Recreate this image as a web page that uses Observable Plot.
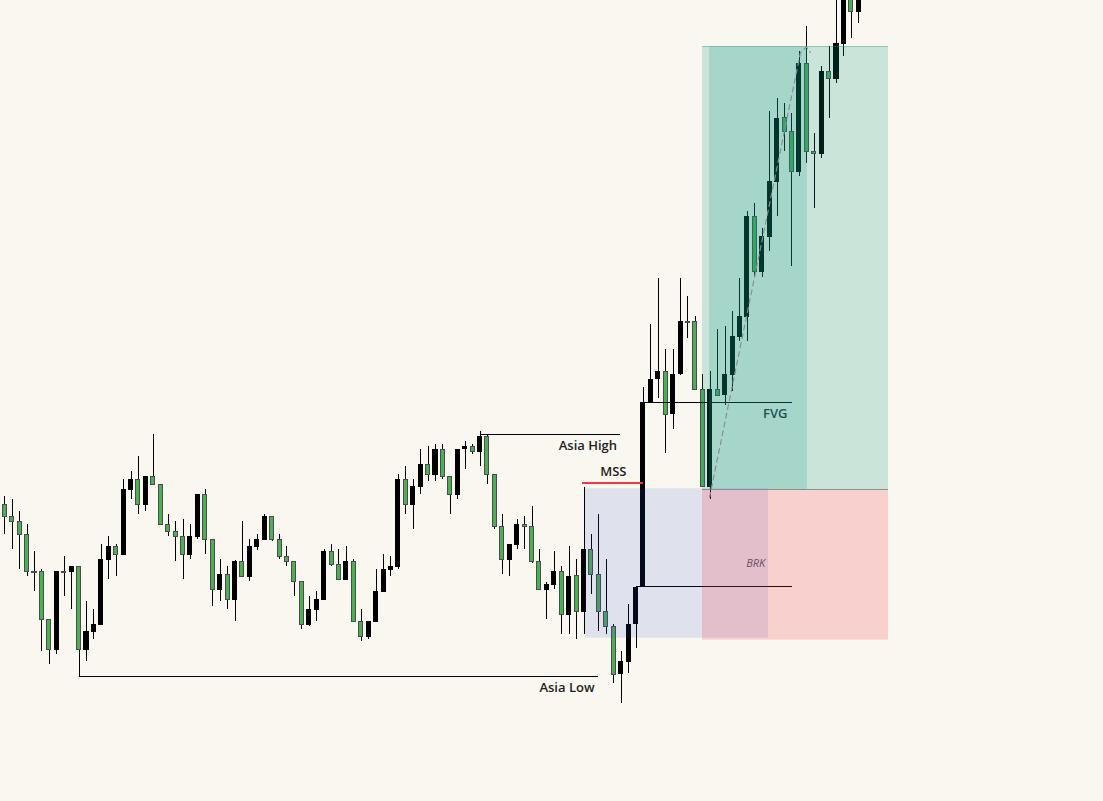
<!DOCTYPE html>
<html>
<head>
<meta charset="utf-8">
<script src="https://cdn.jsdelivr.net/npm/d3@7"></script>
<script src="https://cdn.jsdelivr.net/npm/@observablehq/plot@0.6"></script>
<style>
  html, body { margin: 0; padding: 0; background: #faf7f0; overflow: hidden; }
  #chart svg { display: block; }
</style>
</head>
<body>
<div id="chart"></div>
<script>
// ---- Candle data (price units) ----
const open = [29.57,28.37,27.87,26.57,22.90,22.90,18.07,15.03,22.90,22.83,23.40,15.03,16.83,17.53,24.03,25.40,24.53,31.03,32.10,29.53,
32.40,31.60,27.57,26.87,26.37,24.53,26.33,30.60,26.10,21.03,22.60,20.03,23.90,22.33,25.33,26.03,28.40,26.10,24.40,23.90,
21.87,17.53,19.03,20.03,24.90,23.60,22.03,23.90,17.90,16.33,17.83,20.83,23.03,23.33,32.10,29.53,31.33,33.60,32.53,35.10,
32.40,30.53,35.07,35.40,34.83,36.40,32.57,27.33,24.03,25.53,27.57,27.37,23.90,21.03,21.53,22.90,18.53,22.43,18.83,25.10,
22.57,18.87,17.40,12.57,13.83,17.57,21.40,39.83,42.07,42.90,38.57,42.57,47.85,47.83,41.07,31.33,41.10,40.50,42.50,46.33,
48.33,58.40,52.83,56.33,61.83,68.23,66.90,62.83,73.70,64.90,64.63,72.90,72.13,75.63,80.60,78.83];
const high = [30.40,30.10,28.90,27.60,24.90,23.10,18.07,22.90,24.40,23.40,23.40,19.90,19.10,25.60,26.40,25.60,32.10,32.90,34.40,32.40,
36.60,31.60,28.60,27.90,28.10,27.60,30.60,31.10,26.10,24.13,23.43,24.03,27.93,26.10,26.60,28.60,28.40,26.60,25.40,23.90,
21.87,20.40,20.90,25.10,25.60,25.10,25.40,24.10,19.10,17.90,23.10,24.60,24.40,32.60,33.40,32.10,35.10,35.40,35.60,35.60,
32.40,35.10,35.90,35.60,36.90,36.60,32.57,28.57,25.60,28.10,28.40,29.40,25.10,21.83,24.90,23.43,25.40,24.13,31.33,26.60,
28.60,24.10,17.60,14.90,19.60,21.33,41.33,47.57,52.17,45.07,45.07,52.17,50.40,48.40,42.57,42.90,47.10,47.40,48.90,52.20,
58.90,59.70,57.20,68.90,70.20,69.70,68.70,74.90,77.40,66.70,73.40,75.40,81.50,83.00,82.00,82.50];
const low = [26.63,25.13,23.13,22.43,20.93,14.93,13.63,14.63,20.43,19.13,12.37,13.93,16.13,17.53,22.13,22.43,24.53,30.10,28.63,28.93,
31.57,27.47,26.43,23.93,22.13,24.13,26.13,24.63,19.43,19.93,19.13,17.93,22.33,21.93,24.97,26.03,25.93,24.13,23.43,20.43,
17.13,17.43,17.93,20.03,23.43,22.03,22.03,17.83,15.93,16.13,17.83,20.83,22.43,23.13,28.63,27.13,30.63,31.93,31.93,32.13,
28.63,30.13,33.13,34.63,33.43,31.63,27.13,22.63,22.43,25.13,25.13,23.73,21.00,18.13,21.13,16.63,16.63,16.13,16.63,20.63,
16.93,16.60,11.67,9.67,12.67,15.17,21.33,39.83,40.17,34.67,37.13,42.53,46.17,41.07,31.33,30.07,40.43,39.50,40.93,45.93,
45.93,52.33,52.27,54.93,58.43,64.93,53.43,62.43,63.73,59.23,64.23,68.23,71.73,74.43,76.23,77.73];
const close = [28.33,27.83,26.57,22.83,22.80,18.03,15.03,22.90,22.80,23.40,15.03,16.90,17.60,24.10,25.40,24.53,31.10,32.10,29.53,32.40,
31.57,27.57,26.87,26.37,24.57,26.37,30.60,26.07,21.03,22.60,20.03,23.90,22.37,25.40,26.10,28.40,26.03,24.33,23.83,21.83,
17.57,19.10,20.10,24.90,23.53,22.03,23.90,17.83,16.33,17.90,20.90,23.10,23.40,32.10,29.53,31.40,33.60,32.57,35.10,32.33,
30.53,35.10,35.40,34.83,36.40,32.57,27.33,24.03,25.60,27.60,27.33,23.83,21.03,21.63,22.90,18.53,22.43,18.83,25.10,22.53,
18.83,17.33,12.57,13.90,17.57,21.33,39.83,42.07,42.90,38.57,42.57,47.90,47.80,41.07,31.33,41.07,40.50,42.60,46.40,48.40,
58.40,52.83,56.40,61.90,68.23,66.83,62.83,73.70,64.83,64.67,72.90,72.13,75.70,80.60,78.83,81.20];

// ---- Annotation levels (bar index, price) ----
const levelNames  = ["Asia High", "Asia Low", "MSS", "FVG", "BRK"];
const levelPrice  = [36.57, 12.37, 31.73, 39.83, 21.37];
const levelStart  = [64, 10, 77.8, 86, 85];
const levelEnd    = [82.9, 80, 86, 106.03, 106.03];

// label anchors
const labelText   = ["Asia High", "Asia Low", "MSS", "FVG", "BRK"];
const labelIndex  = [82.45, 79.41, 81.95, 105.4, 102.4];
const labelPrice  = [35.05, 10.83, 32.5, 38.3, 23.4];

// zones: [x1 index, x2 index, price low, price high]
const zoneNames = ["session", "stop", "target", "targetCore"];
const zoneX1 = [78.2, 93.95, 93.95, 94.9];
const zoneX2 = [102.84, 119.0, 119.0, 108.1];
const zoneLo = [16.23, 16.03, 31.1, 31.1];
const zoneHi = [31.17, 31.1, 75.4, 75.4];

// dashed projection path
const pathIndex = [94.9, 107.15, 107.95, 108.49];
const pathPrice = [30.3, 74.8, 75.35, 74.8];

// ---- build tables ----
const candles = open.map((o, i) => ({i, o, h: high[i], l: low[i], c: close[i], up: close[i] > o}));
const levels = levelNames.map((n, k) => ({n, y: levelPrice[k], x1: levelStart[k], x2: levelEnd[k]}));
const zones = zoneNames.map((n, k) => ({n, x1: zoneX1[k], x2: zoneX2[k], y1: zoneLo[k], y2: zoneHi[k]}));
const arrow = pathIndex.map((x, k) => ({x, y: pathPrice[k]}));
const labels = labelText.map((t, k) => ({t, x: labelIndex[k], y: labelPrice[k]}));

const W = 1103, H = 801;
const firstX = 4.3, step = 7.426;
const font = "'Open Sans', 'Noto Sans', sans-serif";

const lvl = n => levels.filter(d => d.n === n);
const zn = n => zones.filter(d => d.n === n);
const lab = n => labels.filter(d => d.t === n);

const chart = Plot.plot({
  width: W, height: H,
  margin: 0,
  style: {background: "#faf7f0", overflow: "hidden"},
  x: {domain: [-firstX / step, (W - firstX) / step], axis: null},
  y: {domain: [80 - H / 10, 80], axis: null},
  marks: [
    // wicks
    Plot.ruleX(candles, {x: "i", y1: "l", y2: "h", stroke: "#000", strokeWidth: 1, shapeRendering: "crispEdges"}),
    // bullish bodies (black)
    Plot.rect(candles.filter(d => d.up), {x1: d => d.i - 0.34, x2: d => d.i + 0.34, y1: "o", y2: "c", fill: "#000", shapeRendering: "crispEdges"}),
    // bearish bodies (green)
    Plot.rect(candles.filter(d => !d.up), {x1: d => d.i - 0.27, x2: d => d.i + 0.27, y1: "o", y2: "c", fill: "#4caf50", stroke: "#4a4b55", strokeWidth: 1, shapeRendering: "crispEdges"}),
    // levels
    Plot.ruleY(lvl("Asia High"), {y: "y", x1: "x1", x2: "x2", stroke: "#000", strokeWidth: 1, shapeRendering: "crispEdges"}),
    Plot.ruleY(lvl("Asia Low"), {y: "y", x1: "x1", x2: "x2", stroke: "#000", strokeWidth: 1, shapeRendering: "crispEdges"}),
    Plot.ruleY(lvl("FVG"), {y: "y", x1: "x1", x2: "x2", stroke: "#000", strokeWidth: 1, shapeRendering: "crispEdges"}),
    Plot.ruleY(lvl("BRK"), {y: "y", x1: "x1", x2: "x2", stroke: "#000", strokeWidth: 1, shapeRendering: "crispEdges"}),
    Plot.ruleY(lvl("MSS"), {y: "y", x1: "x1", x2: "x2", stroke: "#f23645", strokeWidth: 2, shapeRendering: "crispEdges"}),
    // labels
    Plot.text(lab("Asia High"), {x: "x", y: "y", text: "t", textAnchor: "end", lineAnchor: "bottom", fontSize: 13, fontWeight: 600, fontFamily: font, fill: "#1e1f24"}),
    Plot.text(lab("Asia Low"), {x: "x", y: "y", text: "t", textAnchor: "end", lineAnchor: "bottom", fontSize: 13, fontWeight: 600, fontFamily: font, fill: "#1e1f24"}),
    Plot.text(lab("MSS"), {x: "x", y: "y", text: "t", textAnchor: "middle", lineAnchor: "bottom", fontSize: 13, fontWeight: 600, fontFamily: font, fill: "#1e1f24"}),
    Plot.text(lab("FVG"), {x: "x", y: "y", text: "t", textAnchor: "end", lineAnchor: "bottom", fontSize: 13, fontWeight: 600, fontFamily: font, fill: "#2a2e39"}),
    Plot.text(lab("BRK"), {x: "x", y: "y", text: "t", textAnchor: "end", lineAnchor: "bottom", fontSize: 11, fontStyle: "italic", fontFamily: font, fill: "#55525e"}),
    // zones (translucent, on top)
    Plot.rect(zn("session"), {x1: "x1", x2: "x2", y1: "y1", y2: "y2", fill: "#2148df", fillOpacity: 0.12}),
    Plot.rect(zn("stop"), {x1: "x1", x2: "x2", y1: "y1", y2: "y2", fill: "#f23645", fillOpacity: 0.2}),
    Plot.rect(zn("target"), {x1: "x1", x2: "x2", y1: "y1", y2: "y2", fill: "#089981", fillOpacity: 0.2}),
    Plot.rect(zn("targetCore"), {x1: "x1", x2: "x2", y1: "y1", y2: "y2", fill: "#089981", fillOpacity: 0.19}),
    Plot.ruleY(zn("target"), {y: "y2", x1: "x1", x2: "x2", stroke: "#089981", strokeOpacity: 0.35, strokeWidth: 1, shapeRendering: "crispEdges"}),
    Plot.ruleY(zn("target"), {y: "y1", x1: "x1", x2: "x2", stroke: "#787b86", strokeOpacity: 0.8, strokeWidth: 1, shapeRendering: "crispEdges"}),
    // dashed projection
    Plot.line(arrow, {x: "x", y: "y", stroke: "#8a8d96", strokeWidth: 1.2, strokeDasharray: "5,4"})
  ]
});
document.getElementById("chart").appendChild(chart);
</script>
</body>
</html>
